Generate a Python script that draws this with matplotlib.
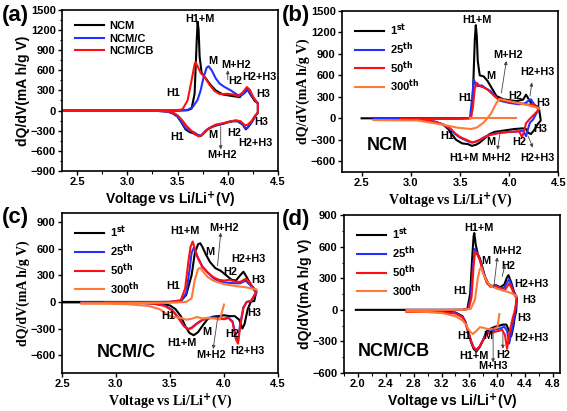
import matplotlib
matplotlib.use('Agg')
import matplotlib.pyplot as plt
from matplotlib.ticker import MultipleLocator, AutoMinorLocator

plt.rcParams['font.family'] = ['Liberation Sans', 'DejaVu Sans']
plt.rcParams['font.weight'] = 'bold'
plt.rcParams['mathtext.default'] = 'bf'

BLACK = '#000000'
BLUE = '#2430ff'
RED = '#ff1010'
ORANGE = '#ff7a3a'

# ---------------- (a) NCM, NCM/C, NCM/CB ----------------
a_ncm_chg_v = [2.35, 3.0, 3.5, 3.6, 3.64, 3.67, 3.69, 3.70, 3.71, 3.72, 3.74, 3.78, 3.83, 3.88, 3.95, 4.05, 4.12, 4.16, 4.19, 4.23, 4.27, 4.3]
a_ncm_chg_q = [0, 0, 0, 5, 30, 250, 1000, 1320, 1200, 800, 560, 480, 380, 300, 240, 215, 200, 280, 330, 230, 140, 110]
a_ncm_dis_v = [4.3, 4.27, 4.24, 4.2, 4.18, 4.15, 4.1, 4.05, 4.0, 3.95, 3.9, 3.85, 3.8, 3.76, 3.73, 3.7, 3.66, 3.62, 3.58, 3.54, 3.5, 3.45, 3.4, 3.3, 3.0, 2.35]
a_ncm_dis_q = [-30, -90, -170, -250, -280, -210, -160, -160, -175, -200, -215, -240, -280, -340, -380, -370, -340, -320, -280, -180, -90, -40, -15, -5, 0, 0]

a_c_chg_v = [2.35, 3.0, 3.5, 3.6, 3.65, 3.7, 3.73, 3.76, 3.79, 3.81, 3.84, 3.88, 3.92, 3.97, 4.03, 4.08, 4.12, 4.16, 4.2, 4.24, 4.3]
a_c_chg_q = [0, 0, 0, 10, 50, 160, 300, 500, 640, 660, 600, 480, 400, 350, 300, 250, 215, 250, 310, 220, 110]
a_c_dis_v = [4.3, 4.27, 4.24, 4.2, 4.18, 4.15, 4.1, 4.05, 4.0, 3.95, 3.9, 3.85, 3.8, 3.76, 3.73, 3.7, 3.66, 3.62, 3.58, 3.54, 3.5, 3.45, 3.4, 3.3, 3.0, 2.35]
a_c_dis_q = [-30, -90, -170, -250, -270, -200, -155, -155, -170, -195, -210, -235, -275, -335, -375, -360, -320, -300, -260, -170, -85, -35, -15, -5, 0, 0]

a_cb_chg_v = [2.35, 3.0, 3.5, 3.55, 3.6, 3.64, 3.67, 3.68, 3.7, 3.73, 3.77, 3.82, 3.87, 3.92, 4.0, 4.05, 4.1, 4.15, 4.19, 4.22, 4.26, 4.3]
a_cb_chg_q = [0, 0, 5, 20, 150, 450, 690, 720, 660, 560, 500, 380, 290, 245, 250, 240, 215, 270, 350, 310, 180, 100]
a_cb_dis_v = [4.3, 4.27, 4.24, 4.2, 4.17, 4.13, 4.08, 4.03, 3.98, 3.93, 3.88, 3.83, 3.78, 3.74, 3.71, 3.67, 3.63, 3.59, 3.55, 3.5, 3.45, 3.4, 3.3, 3.0, 2.35]
a_cb_dis_q = [-30, -80, -150, -210, -220, -160, -145, -160, -180, -195, -210, -250, -300, -370, -385, -350, -290, -230, -150, -70, -25, -10, -5, 0, 0]

# ---------------- (b) NCM cycles ----------------
b_1_chg_v = [2.5, 3.0, 3.5, 3.61, 3.63, 3.65, 3.66, 3.67, 3.68, 3.70, 3.74, 3.78, 3.81, 3.87, 3.94, 4.07, 4.14, 4.17, 4.22, 4.3]
b_1_chg_q = [0, 0, 0, 5, 300, 1100, 1300, 1150, 800, 600, 585, 520, 450, 310, 265, 240, 260, 330, 215, 150]
b_1_dis_v = [4.32, 4.29, 4.25, 4.22, 4.19, 4.17, 4.14, 4.05, 3.95, 3.85, 3.8, 3.75, 3.7, 3.66, 3.62, 3.58, 3.52, 3.46, 3.42, 3.38, 3.33, 3.25, 3.1, 2.9, 2.62]
b_1_dis_q = [-30, -80, -170, -220, -200, -150, -140, -150, -170, -190, -220, -280, -340, -370, -385, -360, -350, -300, -230, -150, -90, -50, -25, -15, -10]

b_25_chg_v = [2.62, 3.0, 3.5, 3.6, 3.62, 3.64, 3.66, 3.68, 3.72, 3.76, 3.81, 3.86, 3.92, 4.0, 4.1, 4.16, 4.2, 4.22, 4.25, 4.3]
b_25_chg_q = [-10, -10, -5, 0, 250, 540, 470, 450, 460, 420, 380, 300, 240, 215, 195, 210, 250, 265, 200, 130]
b_25_dis_v = [4.24, 4.21, 4.19, 4.17, 4.14, 4.1, 4.0, 3.9, 3.8, 3.75, 3.7, 3.65, 3.62, 3.58, 3.5, 3.45, 3.4, 3.33, 3.25, 3.1, 2.9, 2.62]
b_25_dis_q = [-20, -60, -150, -250, -170, -185, -190, -200, -230, -260, -300, -330, -340, -320, -270, -220, -150, -90, -50, -25, -15, -10]

b_50_chg_v = [2.9, 3.2, 3.5, 3.61, 3.63, 3.65, 3.67, 3.7, 3.74, 3.78, 3.85, 3.9, 4.0, 4.1, 4.2, 4.25, 4.3]
b_50_chg_q = [-10, -10, -5, 0, 150, 420, 495, 450, 430, 400, 310, 250, 230, 210, 190, 200, 120]
b_50_dis_v = [4.2, 4.17, 4.15, 4.13, 4.1, 4.0, 3.9, 3.8, 3.75, 3.7, 3.65, 3.62, 3.58, 3.5, 3.45, 3.4, 3.33, 3.25, 3.1, 2.9]
b_50_dis_q = [-20, -70, -180, -265, -180, -190, -205, -235, -265, -305, -330, -335, -310, -260, -210, -140, -85, -50, -25, -15]

b_300_chg_v = [2.62, 3.07, 3.31, 3.47, 3.61, 3.67, 3.74, 3.81, 3.87, 3.9, 3.95, 4.0, 4.1, 4.2, 4.3]
b_300_chg_q = [-25, -30, -85, -130, -150, -130, -60, 55, 215, 270, 255, 240, 210, 180, 140]
b_300_dis_v = [4.07, 3.85, 3.6]
b_300_dis_q = [0, 0, 0]

# ---------------- (c) NCM/C cycles ----------------
c_1_chg_v = [2.5, 3.0, 3.5, 3.6, 3.65, 3.7, 3.73, 3.76, 3.78, 3.8, 3.83, 3.87, 3.92, 3.97, 4.02, 4.07, 4.11, 4.15, 4.18, 4.21, 4.25, 4.3]
c_1_chg_q = [0, 0, 0, 10, 80, 300, 550, 650, 660, 620, 540, 450, 380, 350, 300, 250, 240, 300, 340, 280, 190, 120]
c_1_dis_v = [4.28, 4.25, 4.22, 4.19, 4.17, 4.14, 4.1, 4.05, 4.0, 3.95, 3.9, 3.85, 3.8, 3.76, 3.72, 3.68, 3.64, 3.6, 3.55, 3.5, 3.4, 3.2, 2.9, 2.5]
c_1_dis_q = [10, 5, -80, -250, -300, -200, -160, -160, -150, -160, -165, -190, -270, -340, -375, -350, -270, -160, -80, -40, -15, -8, -5, -5]

c_25_chg_v = [2.68, 3.0, 3.5, 3.6, 3.65, 3.68, 3.7, 3.72, 3.75, 3.8, 3.85, 3.9, 3.95, 4.0, 4.05, 4.1, 4.15, 4.2, 4.25, 4.3]
c_25_chg_q = [-5, -5, 0, 10, 100, 350, 550, 610, 520, 400, 330, 270, 230, 220, 215, 210, 210, 240, 180, 100]
c_25_dis_v = [4.25, 4.21, 4.18, 4.15, 4.13, 4.11, 4.08, 4.04, 4.0, 3.95, 3.9, 3.85, 3.8, 3.75, 3.7, 3.67, 3.63, 3.58, 3.52, 3.45, 3.35, 3.2, 3.0, 2.68]
c_25_dis_q = [10, 0, -60, -250, -440, -400, -220, -175, -190, -180, -175, -180, -200, -240, -290, -305, -270, -180, -90, -40, -20, -10, -10, -10]

c_50_chg_v = [2.9, 3.2, 3.5, 3.6, 3.64, 3.67, 3.69, 3.71, 3.73, 3.76, 3.8, 3.85, 3.9, 3.95, 4.0, 4.05, 4.1, 4.15, 4.2, 4.24, 4.27, 4.3]
c_50_chg_q = [-5, -5, 0, 20, 150, 450, 620, 680, 600, 490, 390, 330, 280, 250, 240, 250, 230, 225, 260, 220, 160, 120]
c_50_dis_v = [4.25, 4.21, 4.18, 4.15, 4.13, 4.11, 4.08, 4.04, 4.0, 3.95, 3.9, 3.85, 3.8, 3.75, 3.7, 3.67, 3.63, 3.58, 3.52, 3.45, 3.35, 3.2, 2.9]
c_50_dis_q = [10, 0, -70, -270, -470, -420, -230, -180, -195, -185, -180, -185, -205, -245, -295, -310, -275, -185, -95, -45, -20, -10, -10]

c_300_chg_v = [2.68, 3.0, 3.5, 3.65, 3.7, 3.73, 3.76, 3.78, 3.8, 3.85, 3.9, 4.0, 4.1, 4.2, 4.3]
c_300_chg_q = [-15, -15, -10, 0, 40, 250, 370, 385, 350, 280, 240, 200, 180, 165, 140]
c_300_dis_v = [4.0, 3.98, 3.96, 3.93, 3.9, 3.85, 3.8, 3.75, 3.7, 3.65, 3.6, 3.55, 3.5, 3.45, 3.4, 3.3, 3.1, 2.9, 2.68]
c_300_dis_q = [-30, -120, -200, -190, -185, -180, -185, -170, -190, -200, -180, -170, -160, -120, -80, -45, -25, -20, -20]

# ---------------- (d) NCM/CB cycles ----------------
d_1_chg_v = [1.97, 2.5, 3.0, 3.5, 3.57, 3.61, 3.64, 3.66, 3.67, 3.69, 3.72, 3.75, 3.78, 3.82, 3.87, 3.92, 3.98, 4.04, 4.1, 4.14, 4.16, 4.2, 4.24, 4.28]
d_1_chg_q = [0, 0, 0, 0, 10, 150, 500, 700, 730, 620, 530, 490, 420, 320, 250, 225, 235, 215, 240, 310, 330, 260, 170, 115]
d_1_dis_v = [4.27, 4.25, 4.23, 4.2, 4.17, 4.13, 4.08, 4.03, 3.97, 3.9, 3.85, 3.8, 3.75, 3.7, 3.66, 3.62, 3.58, 3.54, 3.5, 3.4, 3.2, 3.0, 2.7]
d_1_dis_q = [-15, -70, -160, -250, -200, -140, -140, -150, -160, -180, -200, -280, -350, -395, -370, -300, -200, -110, -60, -25, -15, -10, -10]

d_25_chg_v = [2.7, 3.0, 3.5, 3.58, 3.62, 3.65, 3.68, 3.71, 3.75, 3.8, 3.85, 3.9, 3.98, 4.05, 4.1, 4.14, 4.17, 4.2, 4.24, 4.28]
d_25_chg_q = [0, 0, 0, 10, 120, 420, 580, 530, 480, 360, 260, 225, 230, 205, 210, 260, 290, 240, 160, 115]
d_25_dis_v = [4.26, 4.24, 4.21, 4.17, 4.14, 4.1, 4.05, 3.98, 3.9, 3.85, 3.8, 3.75, 3.7, 3.66, 3.62, 3.58, 3.54, 3.5, 3.4, 3.2, 3.0, 2.7]
d_25_dis_q = [-15, -80, -190, -320, -200, -160, -175, -185, -200, -215, -280, -345, -385, -360, -290, -200, -115, -65, -30, -20, -15, -15]

d_50_chg_v = [2.7, 3.0, 3.5, 3.59, 3.63, 3.66, 3.68, 3.71, 3.75, 3.8, 3.85, 3.9, 3.98, 4.05, 4.1, 4.14, 4.17, 4.2, 4.24, 4.28]
d_50_chg_q = [-5, -5, 0, 10, 120, 420, 550, 540, 470, 350, 255, 220, 225, 200, 180, 220, 250, 215, 150, 110]
d_50_dis_v = [4.25, 4.22, 4.18, 4.14, 4.11, 4.07, 4.02, 3.96, 3.9, 3.85, 3.8, 3.75, 3.7, 3.66, 3.62, 3.58, 3.54, 3.5, 3.4, 3.2, 3.0, 2.7]
d_50_dis_q = [-10, -80, -200, -370, -240, -190, -200, -210, -220, -230, -285, -345, -380, -355, -290, -200, -120, -70, -35, -25, -20, -20]

d_300_chg_v = [2.7, 3.0, 3.5, 3.62, 3.68, 3.72, 3.75, 3.77, 3.8, 3.85, 3.9, 4.0, 4.1, 4.2, 4.28]
d_300_chg_q = [0, 0, 0, 10, 100, 300, 390, 400, 340, 270, 230, 200, 180, 160, 130]
d_300_dis_v = [4.03, 4.0, 3.95, 3.9, 3.85, 3.8, 3.75, 3.7, 3.65, 3.6, 3.55, 3.5, 3.4, 3.2, 3.0, 2.7]
d_300_dis_q = [-40, -170, -180, -185, -180, -170, -165, -200, -230, -200, -140, -100, -60, -30, -20, -15]

# ---------------- text labels (x, y, text) ----------------
a_labels = [(3.72, 1360, 'H1+M'), (3.85, 735, 'M'), (4.08, 675, 'M+H2'), (4.07, 445, 'H2'),
            (4.31, 500, 'H2+H3'), (4.35, 245, 'H3'), (3.46, 260, 'H1'), (3.50, -400, 'H1'),
            (3.85, -365, 'M'), (3.94, -665, 'M+H2'), (4.06, -340, 'H2'), (4.27, -480, 'H2+H3'),
            (4.33, -165, 'H3')]
a_arrows = [((4.0, 460), (4.0, 600)), ((3.93, -240), (3.93, -580))]

b_labels = [(3.67, 1370, 'H1+M'), (3.81, 585, 'M'), (3.99, 885, 'M+H2'), (4.29, 640, 'H2+H3'),
            (3.55, 290, 'H1'), (4.06, 310, 'H2'), (4.34, 215, 'H3'), (3.37, -245, 'H1'),
            (3.54, -560, 'H1+M'), (3.81, -325, 'M'), (3.87, -560, 'M+H2'), (4.10, -335, 'H2'),
            (4.29, -560, 'H2+H3'), (4.31, -150, 'H3')]
b_arrows = [((3.92, 355), (3.97, 800)), ((4.21, 310), (4.23, 500)),
            ((3.91, -175), (3.88, -440)), ((4.19, -245), (4.24, -410))]

c_labels = [(3.64, 800, 'H1+M'), (4.00, 830, 'M+H2'), (3.87, 565, 'M'), (4.23, 480, 'H2+H3'),
            (4.06, 340, 'H2'), (4.32, 250, 'H3'), (3.53, 180, 'H1'), (3.48, -160, 'H1'),
            (3.61, -460, 'H1+M'), (3.84, -335, 'M'), (3.88, -600, 'M+H2'), (4.08, -360, 'H2'),
            (4.22, -555, 'H2+H3'), (4.28, -130, 'H3')]
c_arrows = [((3.94, 405), (3.97, 780)), ((3.94, -190), (3.90, -530))]

d_labels = [(3.74, 775, 'H1+M'), (4.14, 555, 'M+H2'), (4.16, 417, 'H2'), (3.84, 460, 'M'),
            (4.49, 250, 'H2+H3'), (4.46, 95, 'H3'), (3.46, 183, 'H1'), (4.39, -80, 'H3'),
            (4.49, -270, 'H2+H3'), (3.52, -250, 'H1'), (3.86, -245, 'M'), (3.67, -440, 'H1+M'),
            (4.08, -430, 'H2'), (3.94, -535, 'M+H3')]
d_arrows = [((3.95, 215), (4.0, 500)), ((4.07, 315), (4.11, 430)),
            ((4.08, -220), (4.08, -370)), ((3.94, -160), (3.94, -500))]

legend_a = ['NCM', 'NCM/C', 'NCM/CB']
legend_cyc = ['1$^{st}$', '25$^{th}$', '50$^{th}$', '300$^{th}$']

SERIF = ['Liberation Serif', 'DejaVu Serif']


def style(ax, xlim, ylim, xstep, ystep, serif, minor):
    ax.set_xlim(*xlim)
    ax.set_ylim(*ylim)
    ax.xaxis.set_major_locator(MultipleLocator(xstep))
    ax.yaxis.set_major_locator(MultipleLocator(ystep))
    if minor:
        ax.xaxis.set_minor_locator(AutoMinorLocator(2))
        ax.yaxis.set_minor_locator(AutoMinorLocator(2))
    for s in ax.spines.values():
        s.set_linewidth(1.2)
    ax.tick_params(which='major', direction='out', length=3, width=1, labelsize=8, pad=1.5)
    ax.tick_params(which='minor', direction='out', length=1.8, width=0.8)
    for t in ax.get_xticklabels() + ax.get_yticklabels():
        t.set_fontweight('bold')
    fam = SERIF if serif else ['Liberation Sans', 'DejaVu Sans']
    ax.set_xlabel('Voltage vs Li/Li$^{+}$(V)', fontsize=10, fontweight='bold', family=fam, labelpad=1.5)
    ax.set_ylabel('dQ/dV(mA h/g V)', fontsize=10, fontweight='bold', family=fam, labelpad=0.5)


def texts(ax, labels, arrows):
    for x, y, s in labels:
        ax.text(x, y, s, fontsize=7.8, fontweight='bold', ha='center', va='center')
    for (x0, y0), (x1, y1) in arrows:
        ax.annotate('', xy=(x1, y1), xytext=(x0, y0),
                    arrowprops=dict(arrowstyle='-|>', color='#444444', lw=0.6, mutation_scale=5,
                                    shrinkA=0, shrinkB=0))


fig = plt.figure(figsize=(5.67, 4.11), dpi=100)
ax_a = fig.add_axes([0.1093, 0.584, 0.381, 0.392])
ax_b = fig.add_axes([0.603, 0.5815, 0.382, 0.392])
ax_c = fig.add_axes([0.1093, 0.0925, 0.381, 0.389])
ax_d = fig.add_axes([0.6067, 0.0925, 0.381, 0.384])

lw = 1.5
leg_kw = dict(loc='upper left', bbox_to_anchor=(0.03, 0.97), frameon=False, fontsize=8,
              handlelength=2.6, labelspacing=0.2, handletextpad=0.5, borderaxespad=0.2)

# (a)
for cv, cq, dv, dq, col, lab in [
        (a_ncm_chg_v, a_ncm_chg_q, a_ncm_dis_v, a_ncm_dis_q, BLACK, legend_a[0]),
        (a_c_chg_v, a_c_chg_q, a_c_dis_v, a_c_dis_q, BLUE, legend_a[1]),
        (a_cb_chg_v, a_cb_chg_q, a_cb_dis_v, a_cb_dis_q, RED, legend_a[2])]:
    ax_a.plot(cv + dv, cq + dq, color=col, lw=lw, label=lab)
style(ax_a, (2.35, 4.5), (-900, 1500), 0.5, 300, False, True)
texts(ax_a, a_labels, a_arrows)
ax_a.legend(**leg_kw)

# (b)
for cv, cq, dv, dq, col, lab in [
        (b_1_chg_v, b_1_chg_q, b_1_dis_v, b_1_dis_q, BLACK, legend_cyc[0]),
        (b_25_chg_v, b_25_chg_q, b_25_dis_v, b_25_dis_q, BLUE, legend_cyc[1]),
        (b_50_chg_v, b_50_chg_q, b_50_dis_v, b_50_dis_q, RED, legend_cyc[2])]:
    ax_b.plot(cv + dv, cq + dq, color=col, lw=lw, label=lab)
ax_b.plot(b_300_chg_v, b_300_chg_q, color=ORANGE, lw=lw, label=legend_cyc[3])
ax_b.plot(b_300_dis_v, b_300_dis_q, color=ORANGE, lw=lw)
style(ax_b, (2.3, 4.5), (-750, 1500), 0.5, 300, True, False)
texts(ax_b, b_labels, b_arrows)
ax_b.text(2.76, -380, 'NCM', fontsize=13, fontweight='bold', ha='center', va='center')
ax_b.legend(**leg_kw)

# (c)
for cv, cq, dv, dq, col, lab in [
        (c_1_chg_v, c_1_chg_q, c_1_dis_v, c_1_dis_q, BLACK, legend_cyc[0]),
        (c_25_chg_v, c_25_chg_q, c_25_dis_v, c_25_dis_q, BLUE, legend_cyc[1]),
        (c_50_chg_v, c_50_chg_q, c_50_dis_v, c_50_dis_q, RED, legend_cyc[2])]:
    ax_c.plot(cv + dv, cq + dq, color=col, lw=lw, label=lab)
ax_c.plot(c_300_chg_v, c_300_chg_q, color=ORANGE, lw=lw, label=legend_cyc[3])
ax_c.plot(c_300_dis_v, c_300_dis_q, color=ORANGE, lw=lw)
style(ax_c, (2.5, 4.5), (-800, 1000), 0.5, 300, True, False)
ax_c.set_yticks([-600, -300, 0, 300, 600, 900])
texts(ax_c, c_labels, c_arrows)
ax_c.text(3.1, -565, 'NCM/C', fontsize=13, fontweight='bold', ha='center', va='center')
ax_c.legend(**leg_kw)

# (d)
for cv, cq, dv, dq, col, lab in [
        (d_1_chg_v, d_1_chg_q, d_1_dis_v, d_1_dis_q, BLACK, legend_cyc[0]),
        (d_25_chg_v, d_25_chg_q, d_25_dis_v, d_25_dis_q, BLUE, legend_cyc[1]),
        (d_50_chg_v, d_50_chg_q, d_50_dis_v, d_50_dis_q, RED, legend_cyc[2])]:
    ax_d.plot(cv + dv, cq + dq, color=col, lw=lw, label=lab)
ax_d.plot(d_300_chg_v, d_300_chg_q, color=ORANGE, lw=lw, label=legend_cyc[3])
ax_d.plot(d_300_dis_v, d_300_dis_q, color=ORANGE, lw=lw)
style(ax_d, (1.8, 4.9), (-600, 900), 0.4, 300, False, True)
ax_d.set_xticks([2.0, 2.4, 2.8, 3.2, 3.6, 4.0, 4.4, 4.8])
texts(ax_d, d_labels, d_arrows)
ax_d.text(2.52, -395, 'NCM/CB', fontsize=13, fontweight='bold', ha='center', va='center')
ax_d.legend(**leg_kw)

# panel letters
for x, y, s in [(0.003, 0.962, '(a)'), (0.498, 0.962, '(b)'), (0.003, 0.472, '(c)'), (0.498, 0.467, '(d)')]:
    fig.text(x, y, s, fontsize=16, fontweight='bold', ha='left', va='center')

fig.savefig('out.png', dpi=100)
